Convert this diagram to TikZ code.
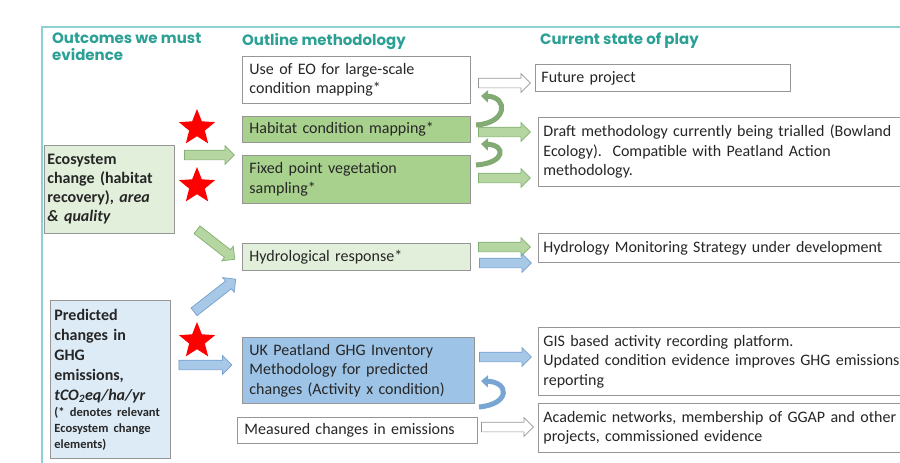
\documentclass[tikz,border=0pt]{standalone}
\usepackage{fontspec}
\setmainfont{Carlito}
\newfontfamily\headfont{Poppins}
\usetikzlibrary{shapes.geometric,shapes.arrows,arrows.meta,calc}
\definecolor{teal1}{RGB}{45,160,150}
\definecolor{framec}{RGB}{140,210,210}
\definecolor{lgreen}{RGB}{226,239,218}
\definecolor{mgreen}{RGB}{169,209,142}
\definecolor{lblue}{RGB}{221,235,247}
\definecolor{mblue}{RGB}{157,195,230}
\definecolor{boxborder}{RGB}{150,150,150}
\definecolor{agreen}{RGB}{181,214,160}
\definecolor{agreenb}{RGB}{130,175,115}
\definecolor{ablue}{RGB}{168,200,232}
\definecolor{abblue}{RGB}{115,160,205}
\definecolor{cgreen}{RGB}{130,170,115}
\definecolor{cblue}{RGB}{120,165,210}
\begin{document}
\begin{tikzpicture}[x=1pt,y=-1pt,
  box/.style={draw=boxborder, line width=0.9pt, anchor=north west, inner sep=0pt,
    font=\fontsize{16}{19.5}\selectfont, align=left, text=black!85},
  head/.style={anchor=north west, inner sep=0pt, text=teal1, align=left,
    font=\headfont\bfseries\fontsize{15}{17}\selectfont},
  barrow/.style={single arrow, draw, line width=0.7pt, minimum height=#1,
    single arrow head extend=4.5pt, single arrow head indent=0pt, inner sep=4.5pt,
    minimum width=0pt},
  garrow/.style={barrow=#1, fill=agreen, draw=agreenb},
  barrowb/.style={barrow=#1, fill=ablue, draw=abblue},
  warrow/.style={barrow=#1, fill=white, draw=boxborder},
  redstar/.style={star, star points=5, star point ratio=2.3, fill=red, inner sep=0pt, minimum size=38pt},
  curv/.style={line width=5pt, -{Triangle[width=12pt,length=7pt]}}
]
\useasboundingbox (0,0) rectangle (900,463);
% frame
\draw[framec, line width=2pt] (42,470) -- (42,27) -- (905,27);
% headers
\node[head] (h1) at (52,33) {Outcomes we must\\evidence};
\node[head] (h2) at (242,33) {Outline methodology};
\node[head] (h3) at (540,33) {Current state of play};
% left boxes
\node[box, fill=lgreen, minimum width=130, minimum height=88, text width=124,
  font=\bfseries\fontsize{16}{19}\selectfont] (eco) at (44,145)
  {Ecosystem\\change (habitat\\recovery), \textit{area}\\\textit{\& quality}};
\node[box, fill=lblue, minimum width=120, minimum height=158, text width=112,
  font=\bfseries\fontsize{16}{20}\selectfont] (pred) at (50,300)
  {Predicted\\changes in\\GHG\\emissions,\\\textit{tCO\textsubscript{2}eq/ha/yr}\par
   {\fontsize{12.5}{16}\selectfont (* denotes relevant\\Ecosystem change\\elements)\par}};
% middle boxes
\node[box, fill=white, minimum width=228, minimum height=47, text width=214] (eo) at (242,56)
  {Use of EO for large-scale\\condition mapping*};
\node[box, fill=mgreen, minimum width=228, minimum height=26, text width=214] (hab) at (242,116)
  {Habitat condition mapping*};
\node[box, fill=mgreen, minimum width=228, minimum height=48, text width=214] (fix) at (242,155)
  {Fixed point vegetation\\sampling*};
\node[box, fill=lgreen, minimum width=228, minimum height=27, text width=214] (hyd) at (242,243)
  {Hydrological response*};
\node[box, fill=mblue, minimum width=232, minimum height=66, text width=218] (uk) at (242,337)
  {UK Peatland GHG Inventory\\Methodology for predicted\\changes (Activity x condition)};
\node[box, fill=white, minimum width=240, minimum height=26, text width=226] (meas) at (237,417)
  {Measured changes in emissions};
% right boxes
\node[box, fill=white, minimum width=255, minimum height=27, text width=243] (fut) at (535,64)
  {Future project};
\node[box, fill=white, minimum width=390, minimum height=69, text width=380] (draft) at (538,117)
  {Draft methodology currently being trialled (Bowland\\Ecology).\ \ Compatible with Peatland Action\\methodology.};
\node[box, fill=white, minimum width=390, minimum height=29, text width=380] (hmon) at (538,233)
  {Hydrology Monitoring Strategy under development};
\node[box, fill=white, minimum width=390, minimum height=68, text width=380] (gis) at (538,327)
  {GIS based activity recording platform.\\Updated condition evidence improves GHG emissions\\reporting};
\node[box, fill=white, minimum width=390, minimum height=49, text width=380] (acad) at (538,403)
  {Academic networks, membership of GGAP and other\\projects, commissioned evidence};
% stars
\node[redstar] (s1) at (197,128) {};
\node[redstar] (s2) at (197,186) {};
\node[redstar] (s3) at (197,341) {};
% left block arrows
\node[garrow=50] (a1) at (207,155) {};
\node[garrow=48, rotate=-38] (a2) at (214,243) {};
\node[barrowb=53, rotate=38] (a3) at (213,297) {};
\node[barrowb=53] (a4) at (203,365) {};
% right block arrows
\node[warrow=52] (b1) at (502,83) {};
\node[garrow=52] (b2) at (502,132) {};
\node[garrow=52] (b3) at (502,178) {};
\node[garrow=52] (b4) at (502,247) {};
\node[barrowb=52] (b5) at (503,263) {};
\node[barrowb=52] (b6) at (503,357) {};
\node[warrow=52] (b7) at (505,427) {};
% curved arrows
\coordinate (c1s) at (476,125);
\coordinate (c1e) at (481,96);
\draw[curv, cgreen] (c1s) .. controls (508,123) and (508,97) .. (c1e);
\coordinate (c2s) at (476,165);
\coordinate (c2e) at (481,144);
\draw[curv, cgreen] (c2s) .. controls (506,163) and (506,145) .. (c2e);
\coordinate (c3s) at (479,407);
\coordinate (c3e) at (481,381);
\draw[curv, cblue] (c3s) .. controls (511,404) and (509,382) .. (c3e);
\end{tikzpicture}
\end{document}
